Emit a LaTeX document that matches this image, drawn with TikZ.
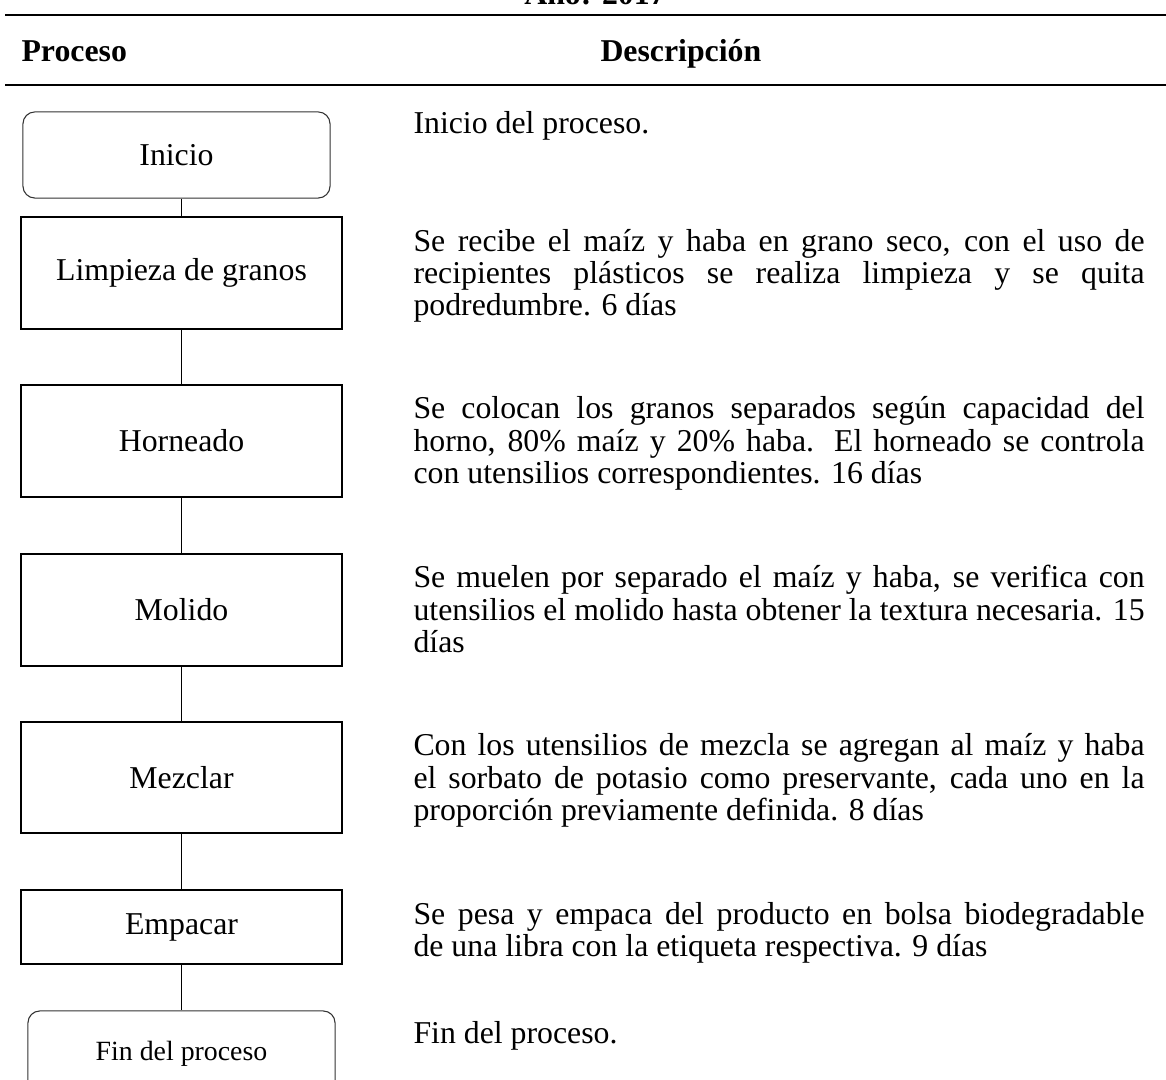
\documentclass[tikz,border=0pt]{standalone}
\usepackage{fontspec}
\setmainfont{Liberation Serif}
\usetikzlibrary{calc}
\tikzset{
	paso/.style={draw=black, line width=0.6pt, minimum width=121.1pt, minimum height=42.3pt, inner sep=0pt, font=\fontsize{12}{12.1}\selectfont},
	extremo/.style={draw=black!80, line width=0.4pt, rounded corners=4.5pt, minimum width=115.9pt, minimum height=32.5pt, inner sep=0pt},
	desc/.style={anchor=north west, inner sep=0pt, text width=275.9pt, align=justify, font=\fontsize{12}{12.1}\selectfont},
	titulo/.style={anchor=base west, inner sep=0pt, font=\fontsize{12}{12.1}\selectfont\bfseries},
	linea/.style={line width=0.5pt},
	regla/.style={line width=0.7pt}
}

\begin{document}
\begin{tikzpicture}[x=0.3774pt, y=-0.3774pt]
		%%%%% START %%%%%
		\useasboundingbox (0, 0) rectangle (1166, 1080);
		
		\node[titulo, anchor=base] (anio) at (595, 5) {Año: 2017};
		\draw[regla] (5, 15) -- (1166, 15);
		\node[titulo] (hproceso) at (21, 62) {Proceso};
		\node[titulo] (hdescripcion) at (600, 62) {Descripción};
		\draw[regla] (5, 85) -- (1166, 85);
		
		% columna de procesos
		\node[extremo, font=\fontsize{12}{12.1}\selectfont] (inicio) at (176.5, 155) {\raisebox{-2pt}{Inicio}};
		\node[paso] (limpieza) at (181.5, 273) {Limpieza de granos};
		\node[paso] (horneado) at (181.5, 441) {Horneado};
		\node[paso] (molido) at (181.5, 610) {Molido};
		\node[paso, minimum height=41.9pt] (mezclar) at (181.5, 777.5) {Mezclar};
		\node[paso, minimum height=27.9pt] (empacar) at (181.5, 927) {Empacar};
		\node[extremo, font=\fontsize{10.5}{12}\selectfont] (fin) at (181.5, 1054) {Fin del proceso};
		
		\draw[linea] (inicio.south -| limpieza.north) -- (limpieza.north);
		\draw[linea] (limpieza.south) -- (horneado.north);
		\draw[linea] (horneado.south) -- (molido.north);
		\draw[linea] (molido.south) -- (mezclar.north);
		\draw[linea] (mezclar.south) -- (empacar.north);
		\draw[linea] (empacar.south) -- (fin.north);
		
		% columna de descripciones
		\node[desc] (dinicio) at (413, 110.6) {\strut Inicio del proceso.};
		\node[desc] (dlimpieza) at (413, 228.6) {\strut Se recibe el maíz y haba en grano seco, con el uso de\linebreak recipientes plásticos se realiza limpieza y se quita\linebreak podredumbre. 6 días};
		\node[desc] (dhorneado) at (413, 396) {\strut Se colocan los granos separados según capacidad del\linebreak horno, 80\% maíz y 20\% haba. El horneado se controla\linebreak con utensilios correspondientes. 16 días};
		\node[desc] (dmolido) at (413, 565) {\strut Se muelen por separado el maíz y haba, se verifica con\linebreak utensilios el molido hasta obtener la textura necesaria. 15\linebreak días};
		\node[desc] (dmezclar) at (413, 733) {\strut Con los utensilios de mezcla se agregan al maíz y haba\linebreak el sorbato de potasio como preservante, cada uno en la\linebreak proporción previamente definida. 8 días};
		\node[desc] (dempacar) at (413, 901.6) {\strut Se pesa y empaca del producto en bolsa biodegradable\linebreak de una libra con la etiqueta respectiva. 9 días};
		\node[desc] (dfin) at (413, 1020.6) {\strut Fin del proceso.};
		
		%%%%% END %%%%%
	\end{tikzpicture}
\end{document}
